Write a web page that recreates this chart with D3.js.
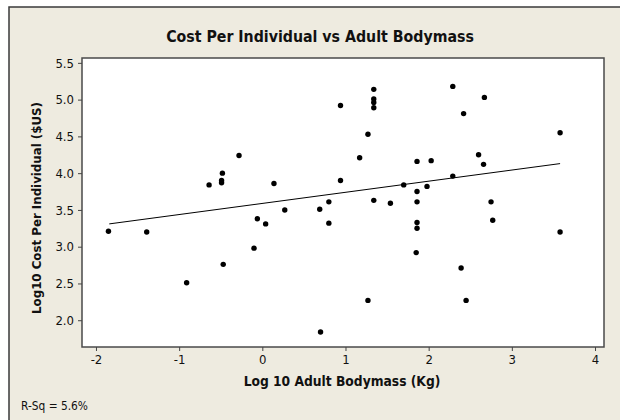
<!DOCTYPE html>
<html><head><meta charset="utf-8">
<script src="https://cdn.jsdelivr.net/npm/d3@7"></script>
<style>
html,body{margin:0;padding:0;background:#fff;}
svg{display:block;}
text{font-family:"DejaVu Sans Condensed","DejaVu Sans",sans-serif;fill:#111;}
</style></head>
<body>
<svg id="chart" width="620" height="420"></svg>
<script>
// ---- data ----
const bodymass = [-1.85,-1.39,-0.91,-0.64,-0.49,-0.49,-0.48,-0.47,-0.28,-0.10,-0.06,0.04,0.14,0.27,0.69,0.70,0.80,0.80,0.94,0.94,1.17,1.27,1.27,1.34,1.34,1.34,1.34,1.34,1.54,1.70,1.86,1.86,1.86,1.86,1.86,1.85,1.98,2.03,2.29,2.29,2.39,2.42,2.45,2.60,2.66,2.67,2.75,2.77,3.58,3.58];
const cost     = [3.21,3.20,2.51,3.84,3.90,3.87,4.00,2.76,4.24,2.98,3.38,3.31,3.86,3.50,3.51,1.84,3.61,3.32,4.92,3.90,4.21,4.53,2.27,5.14,5.01,4.96,4.89,3.63,3.59,3.84,4.16,3.75,3.61,3.33,3.25,2.92,3.82,4.17,5.18,3.96,2.71,4.81,2.27,4.25,4.12,5.03,3.61,3.36,4.55,3.20];
const fitX = [-1.84, 3.58];
const fitY = [3.31, 4.13];
const xTicks = [-2,-1,0,1,2,3,4];
const yTicks = [2.0,2.5,3.0,3.5,4.0,4.5,5.0,5.5];
const titleText = "Cost Per Individual vs Adult Bodymass";
const xLabel = "Log 10 Adult Bodymass (Kg)";
const yLabel = "Log10 Cost Per Individual ($US)";
const rsqText = "R-Sq = 5.6%";

const svg = d3.select("#chart");
const L = 82, R = 604, T = 58, B = 347;
const FONT = '"DejaVu Sans Condensed","DejaVu Sans",sans-serif';

// background frame
svg.append("rect").attr("x",9).attr("y",7).attr("width",620).attr("height",420)
  .attr("fill","#EEEBE0").attr("stroke","#3a3a3a").attr("stroke-width",1.5);

const x = d3.scaleLinear().domain([-2.168, 4.108]).range([L, R]);
const y = d3.scaleLinear().domain([1.636, 5.566]).range([B, T]);

svg.append("rect").attr("x",L).attr("y",T).attr("width",R-L).attr("height",B-T)
  .attr("fill","#fff").attr("stroke","#4a4a4a").attr("stroke-width",1.5);

const xAxis = svg.append("g").attr("transform",`translate(0,${B})`)
  .call(d3.axisBottom(x).tickValues(xTicks).tickFormat(d=>String(d)).tickSize(4).tickPadding(4));
const yAxis = svg.append("g").attr("transform",`translate(${L},0)`)
  .call(d3.axisLeft(y).tickValues(yTicks).tickFormat(d3.format(".1f")).tickSize(4).tickPadding(4));
[xAxis,yAxis].forEach(g=>{
  g.attr("font-size",null).attr("font-family",null);
  g.select(".domain").remove();
  g.selectAll(".tick line").attr("stroke","#444");
  g.selectAll("text").attr("font-size",13).attr("font-family",FONT).attr("fill","#111");
});

// fitted line
svg.append("line").attr("x1",x(fitX[0])).attr("y1",y(fitY[0]))
  .attr("x2",x(fitX[1])).attr("y2",y(fitY[1])).attr("stroke","#000").attr("stroke-width",1);

// points
svg.append("g").selectAll("circle").data(bodymass.map((v,i)=>[v,cost[i]])).join("circle")
  .attr("cx",d=>x(d[0])).attr("cy",d=>y(d[1])).attr("r",2.7).attr("fill","#000");

function fitText(sel, target){
  const len = sel.node().getComputedTextLength();
  const fs = parseFloat(sel.attr("font-size"));
  sel.attr("font-size", fs*target/len);
}
const title = svg.append("text").attr("x",320).attr("y",42).attr("text-anchor","middle")
  .attr("font-weight","bold").attr("font-size",13).text(titleText);
fitText(title, 308);

const xl = svg.append("text").attr("x",342).attr("y",386).attr("text-anchor","middle")
  .attr("font-weight","bold").attr("font-size",12).text(xLabel);
fitText(xl, 197);

const yl = svg.append("text").attr("transform","translate(41,208) rotate(-90)").attr("text-anchor","middle")
  .attr("font-weight","bold").attr("font-size",12).text(yLabel);
fitText(yl, 212);

const rs = svg.append("text").attr("x",21).attr("y",410).attr("font-size",12).text(rsqText);
fitText(rs, 67);
</script>
</body></html>
